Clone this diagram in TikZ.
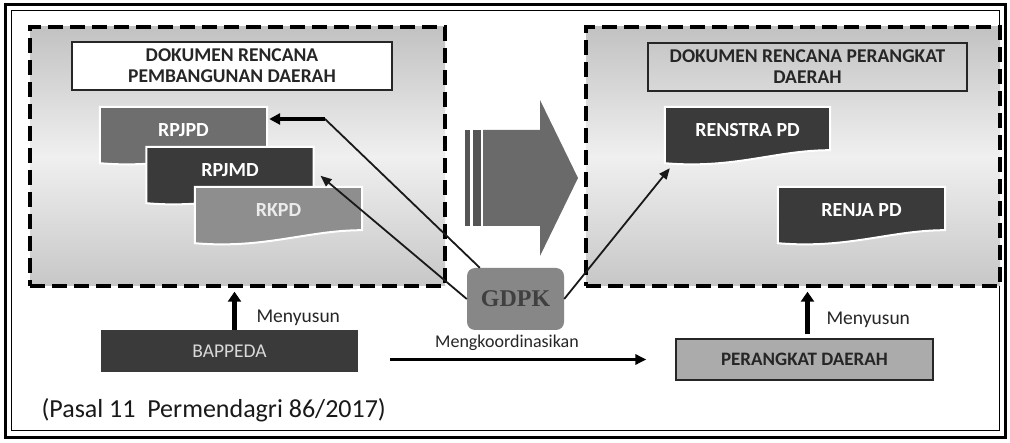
\documentclass[tikz,border=0pt]{standalone}
\usepackage{fontspec}
\setmainfont{Carlito}
\newfontfamily\gdpkfont{Liberation Serif}
\usetikzlibrary{calc,arrows.meta}
\definecolor{docmid}{HTML}{6E6E6E}
\definecolor{docdark}{HTML}{3A3A3A}
\definecolor{doclight}{HTML}{8E8E8E}
\definecolor{arrowgray}{HTML}{6A6A6A}
\newcommand\docshape[2]{%
  \path[draw=white, line width=2pt, fill=#2]
    (#1.north west) -- (#1.north east) -- ($(#1.south east)+(0,-3)$)
    .. controls ($(#1.south east)+(-55,-3)$) and ($(#1.south west)+(70,16)$) ..
    ($(#1.south west)+(0,10)$) -- cycle;}
\begin{document}
\begin{tikzpicture}[x=1pt,y=-1pt,
  panel/.style={draw=black, line width=3.4pt, dash pattern=on 15pt off 7pt,
    top color=black!24, bottom color=black!22, middle color=black!6,
    minimum width=415pt, minimum height=259pt, inner sep=0pt},
  titlebox/.style={draw=black!85, line width=1.3pt, minimum width=320pt,
    minimum height=48pt, inner sep=0pt, align=center, text=black!85,
    font=\bfseries\fontsize{19.5}{21}\selectfont},
  docbox/.style={minimum width=167pt, minimum height=46pt, inner sep=0pt},
  doctext/.style={text=white, font=\bfseries\fontsize{20}{22}\selectfont},
  lbl/.style={text=black!85, font=\fontsize{19.5}{22}\selectfont},
  gline/.style={line width=1.8pt, black!90},
  uparrow/.style={line width=4.5pt, -{Triangle[width=13pt,length=10pt]}},
]
\useasboundingbox (0,0) rectangle (1010,443);
\fill[white] (0,0) rectangle (1010,443);
% outer frame
\draw[line width=3pt] (5,5) rectangle (1005,438);
\draw[line width=1pt] (11,11) rectangle (999,431);

% panels
\node[panel] (leftpanel) at (237.5,156.5) {};
\node[panel, minimum width=414pt] (rightpanel) at (793,156.5) {};

% titles
\node[titlebox, fill=white] (lefttitle) at (232,66) {DOKUMEN RENCANA\\PEMBANGUNAN DAERAH};
\node[titlebox, minimum width=319pt] (righttitle) at (807.5,67) {DOKUMEN RENCANA PERANGKAT\\DAERAH};

% documents left
\node[docbox] (rpjpd) at (183.5,130) {};
\docshape{rpjpd}{docmid}
\node[doctext] (rpjpdtext) at (rpjpd) {RPJPD};
\node[docbox] (rpjmd) at (230,170) {};
\docshape{rpjmd}{docdark}
\node[doctext] (rpjmdtext) at (rpjmd) {RPJMD};
\node[docbox] (rkpd) at (278.5,210) {};
\docshape{rkpd}{doclight}
\node[doctext, text=black!8] (rkpdtext) at (rkpd) {RKPD};

% documents right
\node[docbox, minimum width=165pt] (renstra) at (747.5,130) {};
\docshape{renstra}{docdark}
\node[doctext] (renstratext) at (renstra) {RENSTRA PD};
\node[docbox] (renja) at (861.5,210) {};
\docshape{renja}{docdark}
\node[doctext] (renjatext) at (renja) {RENJA PD};

% big arrow
\fill[arrowgray] (483,130) -- (540,130) -- (540,100) -- (578,178) -- (540,256)
  -- (540,226) -- (483,226) -- cycle;
\fill[arrowgray!80!black] (465,130) rectangle (470,226);
\fill[arrowgray!80!black] (473,130) rectangle (481,226);

% GDPK
\node[fill=black!47, rounded corners=8pt, minimum width=97pt, minimum height=62pt,
  inner sep=0pt, text=black!75, font=\gdpkfont\bfseries\fontsize{24}{26}\selectfont]
  (gdpk) at (515.5,299) {GDPK};
\coordinate (bend) at (325,119);
\draw[gline] ($(gdpk.north west)+(13,0)$) -- (bend);
\draw[line width=4pt, -{Triangle[width=11pt,length=11pt]}] (bend) -- ([xshift=2pt]rpjpd.east |- bend);
\draw[gline, -{Triangle[width=9pt,length=11pt]}, shorten >=9pt] (gdpk.west) -- (rpjmd.east);
\draw[gline, -{Triangle[width=9pt,length=11pt]}] (gdpk.east) -- ($(renstra.south west)+(5,15)$);

% bottom boxes
\node[fill=docdark, minimum width=257pt, minimum height=42pt, inner sep=0pt,
  text=black!15, font=\fontsize{19.5}{21}\selectfont] (bappeda) at (229.5,351) {BAPPEDA};
\node[fill=black!33, draw=black!85, line width=1.2pt, minimum width=257pt,
  minimum height=41pt, inner sep=0pt, text=black!85,
  font=\bfseries\fontsize{19}{21}\selectfont] (perangkat) at (804.5,359.5) {PERANGKAT DAERAH};

\draw[uparrow, shorten >=4pt] ([xshift=5pt]bappeda.north) -- ([xshift=5pt]bappeda.north |- leftpanel.south);
\draw[uparrow, shorten >=4pt, shorten <=4pt] ([xshift=3pt]perangkat.north) -- ([xshift=3pt]perangkat.north |- rightpanel.south);
\node[lbl, anchor=west] (menyusunl) at (253,318) {Menyusun};
\node[lbl, anchor=west] (menyusunr) at (823,320) {Menyusun};

\draw[line width=2.8pt, -{Triangle[width=10pt,length=11pt]}, shorten <=32pt, shorten >=29pt]
  (bappeda.east |- perangkat.west) -- (perangkat.west);
\node[lbl, font=\fontsize{18}{20}\selectfont] (mengkoord) at (507,343) {Mengkoordinasikan};

\node[text=black!90, font=\fontsize{26}{28}\selectfont, anchor=west] (pasal) at (38,410)
  {(Pasal 11\ \ Permendagri 86/2017)};
\end{tikzpicture}
\end{document}
